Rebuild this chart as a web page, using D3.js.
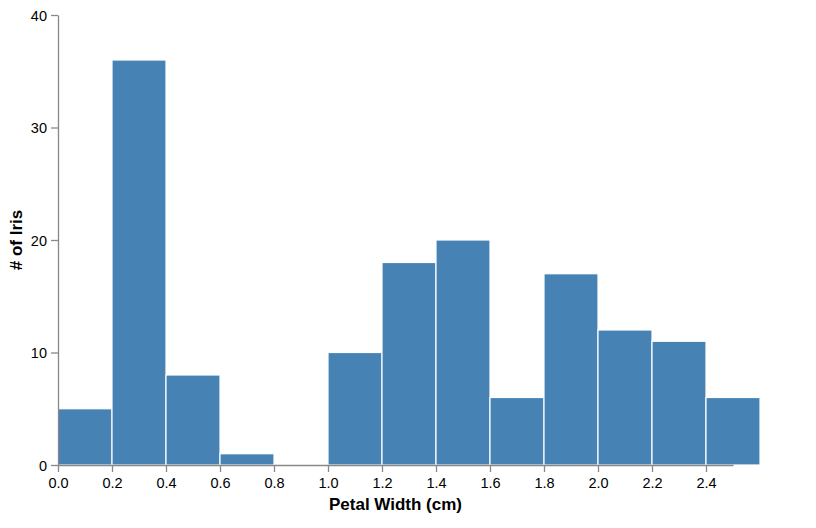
<!DOCTYPE html>
<html><head><meta charset="utf-8">
<script src="https://cdn.jsdelivr.net/npm/d3@7"></script>
<style>body{margin:0;background:#fff}text{font-family:"Liberation Sans",Arial,sans-serif}</style>
</head><body>
<svg id="c" width="816" height="528"></svg>
<script>
const binStarts = [0.0,0.2,0.4,0.6,0.8,1.0,1.2,1.4,1.6,1.8,2.0,2.2,2.4];
const binWidth = 0.2;
const counts = [5,36,8,1,0,10,18,20,6,17,12,11,6];
const xTicks = [0.0,0.2,0.4,0.6,0.8,1.0,1.2,1.4,1.6,1.8,2.0,2.2,2.4];
const yTicks = [0,10,20,30,40];

const svg = d3.select("#c");
const x = d3.scaleLinear().domain([0,2.5]).range([58,733]);
const y = d3.scaleLinear().domain([0,40]).range([465,15]);

svg.append("g").selectAll("rect").data(binStarts).join("rect")
  .attr("x", d=>x(d)).attr("width", d=>x(d+binWidth)-x(d))
  .attr("y", (d,i)=>y(counts[i])).attr("height",(d,i)=>y(0)-y(counts[i]))
  .attr("fill","#4682b4").attr("stroke","#fff").attr("stroke-width",1.2);

const xa = svg.append("g").attr("transform","translate(0,465)")
  .call(d3.axisBottom(x).tickValues(xTicks).tickFormat(d3.format(".1f")).tickSize(7).tickSizeOuter(0));
const ya = svg.append("g").attr("transform","translate(58,0)")
  .call(d3.axisLeft(y).tickValues(yTicks).tickSize(7).tickSizeOuter(0));
[xa,ya].forEach(a=>{
  a.selectAll("path,line").attr("stroke","#888").attr("stroke-width",1.3);
  a.selectAll("text").attr("font-size",14.5).attr("fill","#000").attr("font-family","Liberation Sans, Arial, sans-serif");
});
xa.selectAll("text").attr("y",23).attr("dy","0");
ya.selectAll("text").attr("x",-11).attr("dy","0.35em");

svg.append("text").attr("x",395.5).attr("y",510).attr("text-anchor","middle")
  .attr("font-size",17).attr("font-weight","bold").text("Petal Width (cm)");
svg.append("text").attr("transform","translate(22,240) rotate(-90)").attr("text-anchor","middle")
  .attr("font-size",17).attr("font-weight","bold").text("# of Iris");
</script>
</body></html>
